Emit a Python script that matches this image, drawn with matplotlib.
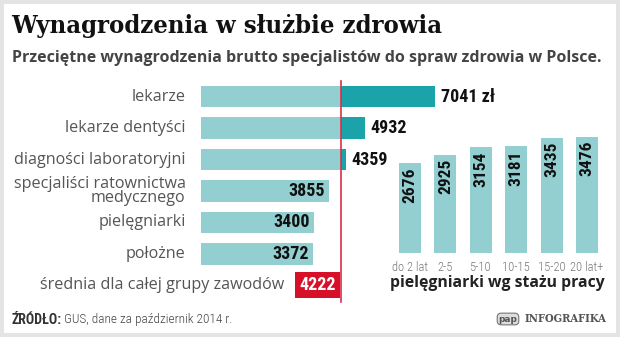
import matplotlib
matplotlib.use('Agg')
import matplotlib.pyplot as plt
from matplotlib.patches import Rectangle

# dane
zawody = ['lekarze', 'lekarze dentyści', 'diagności laboratoryjni',
          'specjaliści ratownictwa\nmedycznego', 'pielęgniarki', 'położne']
placa = [7041, 4932, 4359, 3855, 3400, 3372]
srednia = 4222

staz = ['do 2 lat', '2-5', '5-10', '10-15', '15-20', '20 lat+']
placa_staz = [2676, 2925, 3154, 3181, 3435, 3476]

JASNY = '#93cfd1'
CIEMNY = '#1aa3a9'
CZERWONY = '#d7102a'
NARROW = 'Roboto Condensed'

W, H = 620, 337
fig = plt.figure(figsize=(W / 100, H / 100), dpi=100)
fig.patch.set_facecolor('#e4e4e4')
fig.patches.append(Rectangle((4 / W, 4 / H), 612 / W, 329 / H, transform=fig.transFigure,
                             facecolor='white', edgecolor='none', zorder=-5))


def box(x0, y0, x1, y1):
    # piksele (od gory) -> wspolrzedne figury
    return [x0 / W, 1 - y1 / H, (x1 - x0) / W, (y1 - y0) / H]


fig.text(11 / W, 1 - 26 / H, 'Wynagrodzenia w służbie zdrowia', fontsize=18.3,
         fontweight='bold', family='DejaVu Serif', stretch='condensed',
         va='center', ha='left', color='#111111')
fig.text(12 / W, 1 - 58 / H, 'Przeciętne wynagrodzenia brutto specjalistów do spraw zdrowia w Polsce.',
         fontsize=11.5, fontweight='bold', family='Open Sans', va='center', ha='left',
         color='#444444')

# poziome slupki
ax = fig.add_axes(box(201, 81, 441, 301))
ax.set_xlim(0, 240 / 0.03323)
ax.set_ylim(6.5, -0.5)
ax.axis('off')
for i, v in enumerate(placa):
    ax.barh(i, min(v, srednia), height=0.68, color=JASNY, zorder=1)
    if v > srednia:
        ax.barh(i, v - srednia, left=srednia, height=0.68, color=CIEMNY, zorder=1)
        txt = f'{v} zł' if i == 0 else str(v)
        ax.annotate(txt, (v, i), xytext=(4, 0), textcoords='offset points', va='center',
                    ha='left', fontsize=13, fontweight='bold', family=NARROW,
                    color='#111111', annotation_clip=False)
    else:
        ax.annotate(str(v), (v, i), xytext=(-3, 0), textcoords='offset points', va='center',
                    ha='right', fontsize=13, fontweight='bold', family=NARROW, color='#111111')
    ax.annotate(zawody[i], (0, i), xytext=(-11, 0), textcoords='offset points', va='center',
                ha='right', fontsize=11.6, family='Open Sans', color='#555555',
                linespacing=0.9, annotation_clip=False)

ax.axvline(srednia, ymin=-0.005, ymax=1.0, color='#d6304a', lw=1.2, zorder=3, clip_on=False)
ax.annotate(str(srednia), (srednia, 6), xytext=(-4, 0), textcoords='offset points',
            va='center', ha='right', fontsize=13, fontweight='bold', family=NARROW, color='white',
            bbox=dict(boxstyle='square,pad=0.22', fc=CZERWONY, ec='none'), zorder=4)
ax.annotate('średnia dla całej grupy zawodów', (srednia, 6), xytext=(-41, 0),
            textcoords='offset points', va='center', ha='right', fontsize=11.6,
            family='Open Sans', color='#555555', annotation_clip=False)

# pionowe slupki
ax2 = fig.add_axes(box(392.3, 120, 604.7, 253))
ax2.set_xlim(-0.5, 5.5)
ax2.set_ylim(0, 133 / 0.0335)
ax2.axis('off')
ax2.bar(range(len(placa_staz)), placa_staz, width=0.62, color=JASNY)
for i, v in enumerate(placa_staz):
    ax2.annotate(str(v), (i, v), xytext=(0, -3), textcoords='offset points', rotation=90,
                 va='top', ha='center', fontsize=12.5, fontweight='bold', family=NARROW,
                 color='#111111')
    ax2.annotate(staz[i], (i, 0), xytext=(0, -6), textcoords='offset points', va='top',
                 ha='center', fontsize=9, family=NARROW, fontweight='light', color='#777777',
                 annotation_clip=False)

fig.text(497.5 / W, 1 - 283 / H, 'pielęgniarki wg stażu pracy', fontsize=11.3,
         fontweight='bold', family='Open Sans', ha='center', va='center', color='#222222')

# stopka
fig.text(12 / W, 1 - 320 / H, 'ŹRÓDŁO:', fontsize=10, fontweight='bold', family=NARROW,
         ha='left', va='center', color='#333333')
fig.text(64 / W, 1 - 320 / H, 'GUS, dane za październik 2014 r.', fontsize=9.5, family=NARROW,
         fontweight='light', ha='left', va='center', color='#444444')
fig.text(508 / W, 1 - 319 / H, 'pap', fontsize=6.5, fontweight='bold', family='DejaVu Sans',
         ha='center', va='center', color='#555555',
         bbox=dict(boxstyle='round,pad=0.15,rounding_size=0.45', fc='#dddddd', ec='#777777', lw=0.8))
fig.text(606 / W, 1 - 319 / H, 'INFOGRAFIKA', fontsize=8, fontweight='bold',
         family='DejaVu Serif', stretch='condensed', ha='right', va='center', color='#555555')

fig.savefig('out.png', dpi=100, facecolor=fig.get_facecolor())
